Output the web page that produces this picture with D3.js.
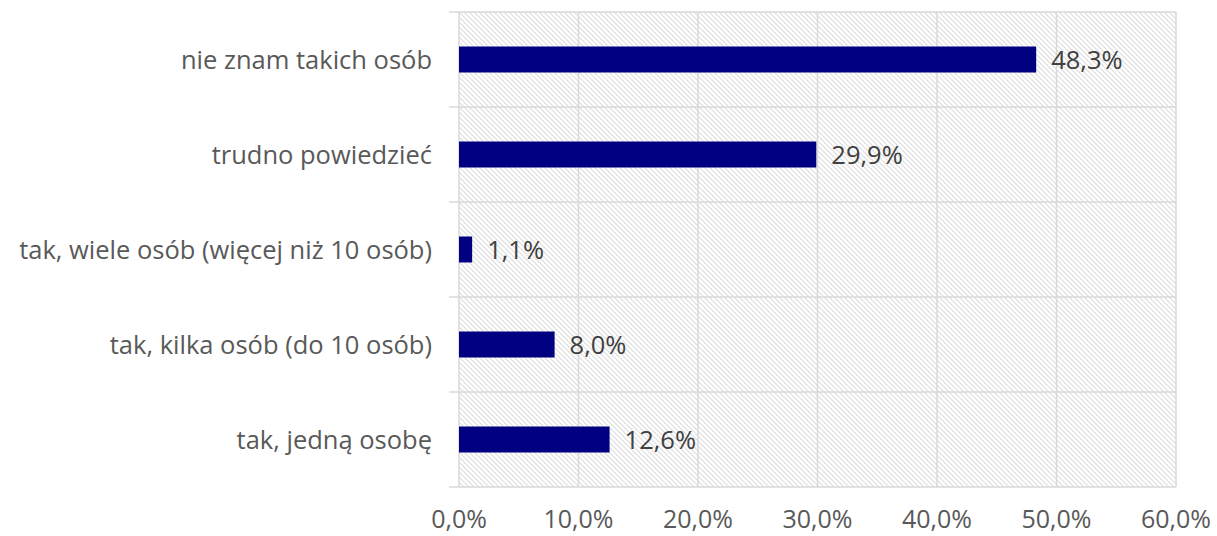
<!DOCTYPE html>
<html>
<head>
<meta charset="utf-8">
<script src="https://cdn.jsdelivr.net/npm/d3@7"></script>
<style>
  body { margin: 0; background: #fff; }
  text { font-family: "Open Sans", Lato, sans-serif; }
</style>
</head>
<body>
<svg id="chart" width="1217" height="536"></svg>
<script>
const categories = [
  "nie znam takich osób",
  "trudno powiedzieć",
  "tak, wiele osób (więcej niż 10 osób)",
  "tak, kilka osób (do 10 osób)",
  "tak, jedną osobę"
];
const values = [48.3, 29.9, 1.1, 8.0, 12.6];
const xTicks = [0, 10, 20, 30, 40, 50, 60];

const margin = {top: 12, left: 459, right: 41, bottom: 49};
const width = 1217 - margin.left - margin.right;
const height = 536 - margin.top - margin.bottom;

const fmt = v => v.toFixed(1).replace(".", ",") + "%";

const svg = d3.select("#chart");
const defs = svg.append("defs");
const pat = defs.append("pattern")
  .attr("id", "hatch")
  .attr("patternUnits", "userSpaceOnUse")
  .attr("width", 5).attr("height", 5);
pat.append("path")
  .attr("d", "M-1,-1 L6,6 M-1,4 L1,6 M4,-1 L6,1")
  .attr("stroke", "#dcdcdc")
  .attr("stroke-width", 1.1);

const g = svg.append("g").attr("transform", `translate(${margin.left},${margin.top})`);

const x = d3.scaleLinear().domain([0, 60]).range([0, width]);
const y = d3.scaleBand().domain(categories).range([0, height]).paddingInner(0).paddingOuter(0);

g.append("rect")
  .attr("width", width).attr("height", height)
  .attr("fill", "url(#hatch)");

// vertical gridlines
g.selectAll(".vgrid")
  .data(xTicks)
  .enter().append("line")
  .attr("x1", d => x(d)).attr("x2", d => x(d))
  .attr("y1", 0).attr("y2", height)
  .attr("stroke", "#d9d9d9").attr("stroke-width", 1.5);

// horizontal gridlines with outward ticks
const hLines = d3.range(categories.length + 1).map(i => i * y.step());
g.selectAll(".hgrid")
  .data(hLines)
  .enter().append("line")
  .attr("x1", -10).attr("x2", width)
  .attr("y1", d => d).attr("y2", d => d)
  .attr("stroke", "#d9d9d9").attr("stroke-width", 1.5);

const barH = 26;
g.selectAll(".bar")
  .data(values)
  .enter().append("rect")
  .attr("x", 0)
  .attr("y", (d, i) => y(categories[i]) + y.bandwidth() / 2 - barH / 2)
  .attr("width", d => x(d))
  .attr("height", barH)
  .attr("fill", "#000080");

g.selectAll(".vlabel")
  .data(values)
  .enter().append("text")
  .attr("x", d => x(d) + 15)
  .attr("y", (d, i) => y(categories[i]) + y.bandwidth() / 2)
  .attr("dy", "0.36em")
  .attr("font-size", 25.5)
  .attr("fill", "#404040")
  .text(d => fmt(d));

// category labels
g.selectAll(".clabel")
  .data(categories)
  .enter().append("text")
  .attr("x", -27)
  .attr("y", d => y(d) + y.bandwidth() / 2)
  .attr("dy", "0.36em")
  .attr("text-anchor", "end")
  .attr("font-size", 25.5)
  .attr("fill", "#595959")
  .text(d => d);

// x tick labels
g.selectAll(".xlabel")
  .data(xTicks)
  .enter().append("text")
  .attr("x", d => x(d))
  .attr("y", height + 32)
  .attr("dy", "0.36em")
  .attr("text-anchor", "middle")
  .attr("font-size", 25)
  .attr("fill", "#595959")
  .text(d => fmt(d));
</script>
</body>
</html>
